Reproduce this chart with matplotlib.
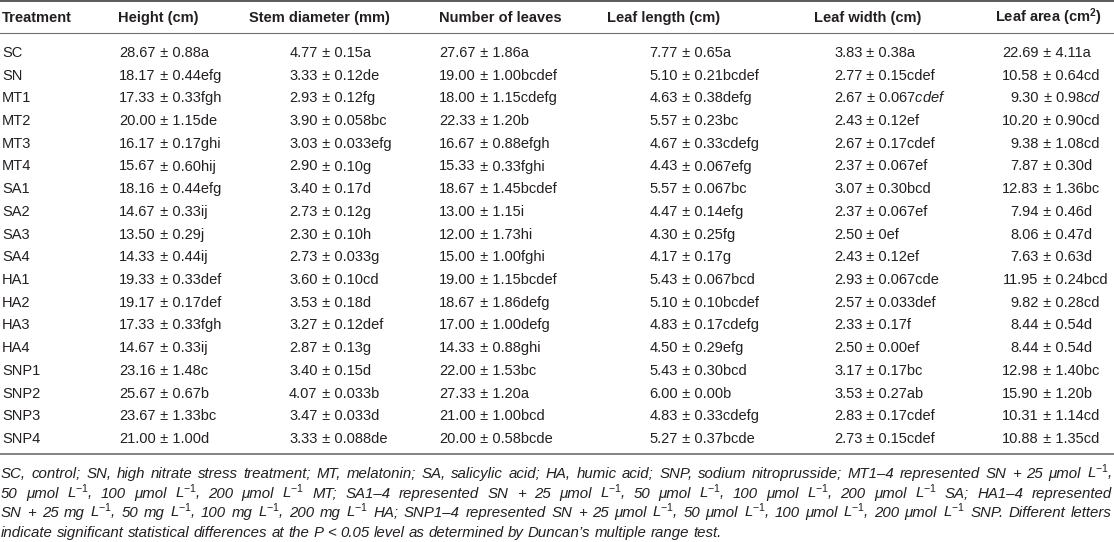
import matplotlib
matplotlib.use("Agg")
import matplotlib.pyplot as plt

plt.rcParams["font.family"] = ["Liberation Sans", "DejaVu Sans"]
plt.rcParams["mathtext.fontset"] = "custom"
plt.rcParams["mathtext.rm"] = "Liberation Sans"
plt.rcParams["mathtext.it"] = "Liberation Sans:italic"
plt.rcParams["mathtext.bf"] = "Liberation Sans:bold"

# ---- table data ----
treatments = ["SC", "SN", "MT1", "MT2", "MT3", "MT4", "SA1", "SA2", "SA3", "SA4",
              "HA1", "HA2", "HA3", "HA4", "SNP1", "SNP2", "SNP3", "SNP4"]

headers = ["Treatment", "Height (cm)", "Stem diameter (mm)", "Number of leaves",
           "Leaf length (cm)", "Leaf width (cm)", r"Leaf area (cm$^{\mathbf{2}}$)"]

height_mean = [28.67, 18.17, 17.33, 20.00, 16.17, 15.67, 18.16, 14.67, 13.50, 14.33,
               19.33, 19.17, 17.33, 14.67, 23.16, 25.67, 23.67, 21.00]
height_sd = ["0.88", "0.44", "0.33", "1.15", "0.17", "0.60", "0.44", "0.33", "0.29", "0.44",
             "0.33", "0.17", "0.33", "0.33", "1.48", "0.67", "1.33", "1.00"]
height_grp = ["a", "efg", "fgh", "de", "ghi", "hij", "efg", "ij", "j", "ij",
              "def", "def", "fgh", "ij", "c", "b", "bc", "d"]

stem_mean = [4.77, 3.33, 2.93, 3.90, 3.03, 2.90, 3.40, 2.73, 2.30, 2.73,
             3.60, 3.53, 3.27, 2.87, 3.40, 4.07, 3.47, 3.33]
stem_sd = ["0.15", "0.12", "0.12", "0.058", "0.033", "0.10", "0.17", "0.12", "0.10", "0.033",
           "0.10", "0.18", "0.12", "0.13", "0.15", "0.033", "0.033", "0.088"]
stem_grp = ["a", "de", "fg", "bc", "efg", "g", "d", "g", "h", "g",
            "cd", "d", "def", "g", "d", "b", "d", "de"]

leaves_mean = [27.67, 19.00, 18.00, 22.33, 16.67, 15.33, 18.67, 13.00, 12.00, 15.00,
               19.00, 18.67, 17.00, 14.33, 22.00, 27.33, 21.00, 20.00]
leaves_sd = ["1.86", "1.00", "1.15", "1.20", "0.88", "0.33", "1.45", "1.15", "1.73", "1.00",
             "1.15", "1.86", "1.00", "0.88", "1.53", "1.20", "1.00", "0.58"]
leaves_grp = ["a", "bcdef", "cdefg", "b", "efgh", "fghi", "bcdef", "i", "hi", "fghi",
              "bcdef", "defg", "defg", "ghi", "bc", "a", "bcd", "bcde"]

length_mean = [7.77, 5.10, 4.63, 5.57, 4.67, 4.43, 5.57, 4.47, 4.30, 4.17,
               5.43, 5.10, 4.83, 4.50, 5.43, 6.00, 4.83, 5.27]
length_sd = ["0.65", "0.21", "0.38", "0.23", "0.33", "0.067", "0.067", "0.14", "0.25", "0.17",
             "0.067", "0.10", "0.17", "0.29", "0.30", "0.00", "0.33", "0.37"]
length_grp = ["a", "bcdef", "defg", "bc", "cdefg", "efg", "bc", "efg", "fg", "g",
              "bcd", "bcdef", "cdefg", "efg", "bcd", "b", "cdefg", "bcde"]

width_mean = [3.83, 2.77, 2.67, 2.43, 2.67, 2.37, 3.07, 2.37, 2.50, 2.43,
              2.93, 2.57, 2.33, 2.50, 3.17, 3.53, 2.83, 2.73]
width_sd = ["0.38", "0.15", "0.067", "0.12", "0.17", "0.067", "0.30", "0.067", "0", "0.12",
            "0.067", "0.033", "0.17", "0.00", "0.17", "0.27", "0.17", "0.15"]
width_grp = ["a", "cdef", "cdef", "ef", "cdef", "ef", "bcd", "ef", "ef", "ef",
             "cde", "def", "f", "ef", "bc", "ab", "cdef", "cdef"]

area_mean = [22.69, 10.58, 9.30, 10.20, 9.38, 7.87, 12.83, 7.94, 8.06, 7.63,
             11.95, 9.82, 8.44, 8.44, 12.98, 15.90, 10.31, 10.88]
area_sd = ["4.11", "0.64", "0.98", "0.90", "1.08", "0.30", "1.36", "0.46", "0.47", "0.63",
           "0.24", "0.28", "0.54", "0.54", "1.40", "1.20", "1.14", "1.35"]
area_grp = ["a", "cd", "cd", "cd", "cd", "d", "bc", "d", "d", "d",
            "bcd", "cd", "d", "d", "bc", "b", "cd", "cd"]

# letters printed in italics in the source (column, row)
italic_cells = {(4, 2), (5, 2)}

columns = [
    (height_mean, height_sd, height_grp),
    (stem_mean, stem_sd, stem_grp),
    (leaves_mean, leaves_sd, leaves_grp),
    (length_mean, length_sd, length_grp),
    (width_mean, width_sd, width_grp),
    (area_mean, area_sd, area_grp),
]

inv = "L$^{\\mathit{-1}}$"
footnote = [
    "SC, control; SN, high nitrate stress treatment; MT, melatonin; SA, salicylic acid; "
    f"HA, humic acid; SNP, sodium nitroprusside; MT1\u20134 represented SN + 25 \u03bcmol {inv},",
    f"50 \u03bcmol {inv}, 100 \u03bcmol {inv}, 200 \u03bcmol {inv} MT; "
    f"SA1\u20134 represented SN + 25 \u03bcmol {inv}, 50 \u03bcmol {inv}, "
    f"100 \u03bcmol {inv}, 200 \u03bcmol {inv} SA; HA1\u20134 represented",
    f"SN + 25 mg {inv}, 50 mg {inv}, 100 mg {inv}, 200 mg {inv} HA; "
    f"SNP1\u20134 represented SN + 25 \u03bcmol {inv}, 50 \u03bcmol {inv}, "
    f"100 \u03bcmol {inv}, 200 \u03bcmol {inv} SNP. Different letters",
    "indicate significant statistical differences at the P < 0.05 level as determined by "
    "Duncan\u2019s multiple range test.",
]

# ---- layout (pixel units) ----
W, H = 1114, 542
fs = 10.5
ink = "#231f20"
rule = "#6d6e71"

header_x = [2, 118, 249, 439, 607, 814, 995]
value_x = [119, 289, 439, 649, 834, 1002]
row0, row_step = 52, 22.7

fig = plt.figure(figsize=(W / 100, H / 100), dpi=100)
ax = fig.add_axes([0, 0, 1, 1])
ax.set_xlim(0, W)
ax.set_ylim(H, 0)
ax.axis("off")

renderer = fig.canvas.get_renderer()


def text_width(s, **kw):
    t = ax.text(0, 0, s, **kw)
    w = t.get_window_extent(renderer).width
    t.remove()
    return w


# rules
ax.plot([0, W], [1, 1], color="#58595b", lw=1.4)
ax.plot([0, W], [33, 33], color=rule, lw=0.8)
ax.plot([0, W], [454, 454], color=rule, lw=1.2)

# header
for x, h in zip(header_x, headers):
    ax.text(x, 22, h, fontsize=fs, fontweight="bold", color=ink, va="baseline")

# body
for i, name in enumerate(treatments):
    yb = row0 + i * row_step + 5
    ax.text(2, yb, name, fontsize=fs, color=ink, va="baseline")
    for c, (means, sds, grps) in enumerate(columns):
        widest = max(text_width(f"{m:.2f}", fontsize=fs) for m in means)
        x_end = value_x[c] + widest
        ax.text(x_end, yb, f"{means[i]:.2f}", fontsize=fs, color=ink,
                ha="right", va="baseline")
        grp = grps[i]
        if (c, i) in italic_cells:
            grp = r"$\mathit{" + grp + "}$"
        ax.text(x_end, yb, f" \u00b1 {sds[i]}{grp}", fontsize=fs, color=ink,
                ha="left", va="baseline")

# footnote, justified like the journal layout
foot_fs = 10.8
foot_y = [473, 493, 512, 532]
space = text_width("a b", fontsize=foot_fs, style="italic") - \
    text_width("ab", fontsize=foot_fs, style="italic")
for k, line in enumerate(footnote):
    yb = foot_y[k] + 5
    words = line.split(" ")
    texts = [ax.text(0, yb, w, fontsize=foot_fs, style="italic", color=ink,
                     va="baseline") for w in words]
    widths = [t.get_window_extent(renderer).width for t in texts]
    if k < len(footnote) - 1:
        gap = (W - 3 - sum(widths)) / (len(words) - 1)
    else:
        gap = space
    x = 1
    for t, w in zip(texts, widths):
        t.set_x(x)
        x += w + gap

fig.savefig("out.png", dpi=100)
